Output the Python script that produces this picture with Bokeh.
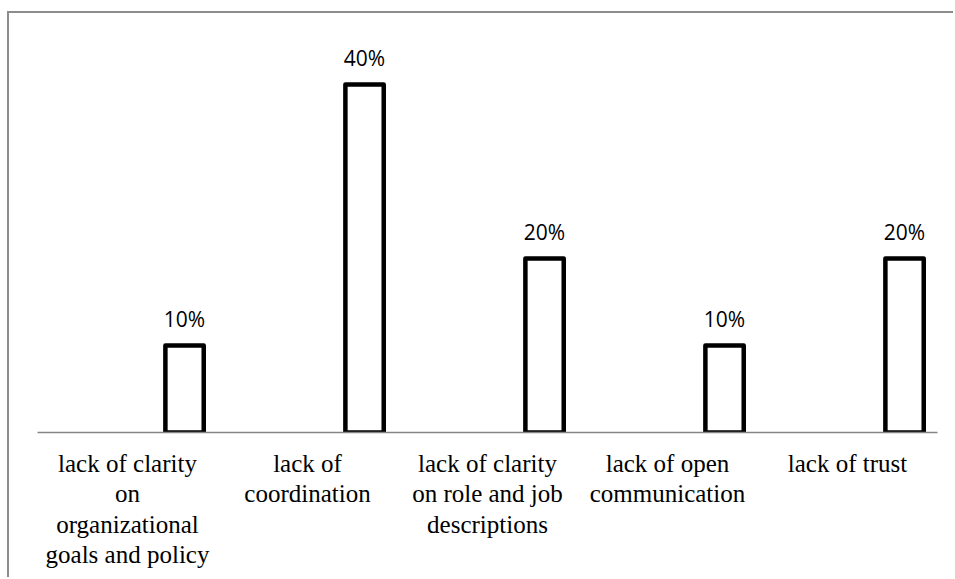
from bokeh.plotting import figure
from bokeh.models import ColumnDataSource, FixedTicker, LabelSet, Range1d
from bokeh.core.properties import value
from bokeh.embed import file_html
from bokeh.resources import INLINE

categories = [
    "lack of clarity\non\norganizational\ngoals and policy",
    "lack of\ncoordination",
    "lack of clarity\non role and job\ndescriptions",
    "lack of open\ncommunication",
    "lack of trust",
]
values = [10, 40, 20, 10, 20]
value_labels = ["10%", "40%", "20%", "10%", "20%"]

slot = [i + 0.5 for i in range(len(categories))]
bar_x = [s + 0.317 for s in slot]

src = ColumnDataSource(dict(x=bar_x, top=values, lab=value_labels))

p = figure(width=946, height=566, output_backend="svg", toolbar_location=None,
           x_range=Range1d(0, 5), y_range=Range1d(0, 47.36),
           min_border_left=28, min_border_right=18, min_border_top=7, min_border_bottom=147,
           styles={"margin-top": "11px", "margin-left": "7px",
                   "border-top": "2px solid #8c8c8c",
                   "border-left": "2px solid #8c8c8c"})
p.outline_line_color = None
p.grid.visible = False
p.yaxis.visible = False

p.vbar(x="x", top="top", bottom=0, width=0.213, source=src,
       fill_color="white", line_color="black", line_width=4.5, line_join="round")

labels = LabelSet(x="x", y="top", text="lab", source=src, y_offset=19,
                  text_align="center", text_baseline="alphabetic",
                  text_font=value("Open Sans"), text_font_size=value("21px"),
                  text_color="black")
p.add_layout(labels)

ax = p.xaxis[0]
ax.ticker = FixedTicker(ticks=slot)
ax.major_label_overrides = {s: c for s, c in zip(slot, categories)}
ax.major_tick_line_color = None
ax.minor_tick_line_color = None
ax.axis_line_color = "#868686"
ax.axis_line_width = 1.5
ax.major_label_text_font = "Liberation Serif"
ax.major_label_text_font_size = "25px"
ax.major_label_text_color = "black"
ax.major_label_text_line_height = 1.13
ax.major_label_standoff = 11

open("out.html", "w").write(file_html(p, INLINE))
